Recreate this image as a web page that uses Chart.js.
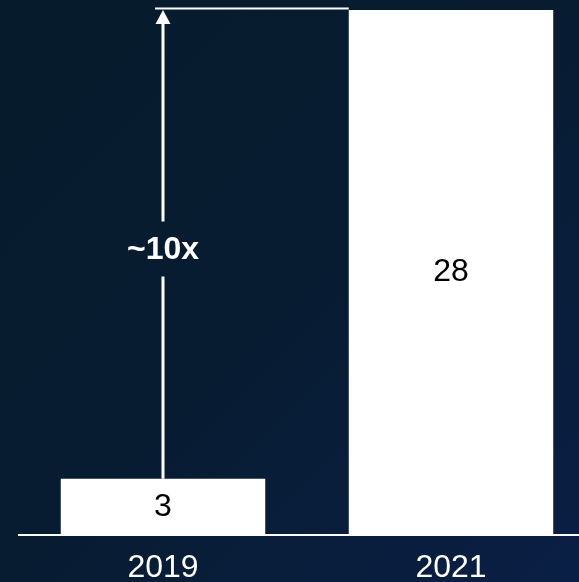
<!DOCTYPE html>
<html>
<head>
<meta charset="utf-8">
<script src="https://cdn.jsdelivr.net/npm/chart.js@4.4.1/dist/chart.umd.min.js"></script>
<style>
  html, body { margin: 0; padding: 0; width: 579px; height: 582px; overflow: hidden;
    background: linear-gradient(135deg, #061b2b 0%, #071c31 50%, #0a1f45 100%); }
  #wrap { position: relative; width: 579px; height: 582px; overflow: hidden; }
  canvas { position: absolute; left: 0; top: 0; }
</style>
</head>
<body>
<div id="wrap"><canvas id="growthChart" width="596" height="582"></canvas></div>
<script>
// ---- data ----
const years = ['2019', '2021'];
const counts = [3, 28];
const growthLabel = '~10x';
const labelAt = 15.2;   // value on the arrow where "~10x" sits

const FONT = "'Liberation Sans', Arial, sans-serif";

// numbers inside the bars + the growth arrow
const annotate = {
    id: 'annotate',
    afterDatasetsDraw(chart) {
        const ctx = chart.ctx;
        const y = chart.scales.y;
        const bars = chart.getDatasetMeta(0).data;
        ctx.save();
        ctx.fillStyle = '#000';
        ctx.font = '32px ' + FONT;
        ctx.textAlign = 'center';
        ctx.textBaseline = 'middle';
        bars.forEach(function (b, i) {
            ctx.fillText(String(counts[i]), b.x, (b.y + b.base) / 2);
        });

        // arrow from the 2019 bar up to the 2021 level
        const ax = bars[0].x;
        const yLow = y.getPixelForValue(counts[0]);
        const yHigh = y.getPixelForValue(counts[1]);
        const yText = y.getPixelForValue(labelAt);
        ctx.strokeStyle = '#fff';
        ctx.fillStyle = '#fff';
        ctx.lineWidth = 3;
        ctx.beginPath();
        ctx.moveTo(ax, yLow); ctx.lineTo(ax, yText + 26.5);
        ctx.moveTo(ax, yText - 28.5); ctx.lineTo(ax, yHigh + 12);
        ctx.stroke();
        ctx.beginPath();
        ctx.moveTo(ax, yHigh);
        ctx.lineTo(ax - 7.5, yHigh + 14);
        ctx.lineTo(ax + 7.5, yHigh + 14);
        ctx.closePath();
        ctx.fill();

        // top guide line over to the 2021 bar
        const b2 = bars[1];
        ctx.lineWidth = 2;
        ctx.beginPath();
        ctx.moveTo(ax - 8, yHigh - 1.5);
        ctx.lineTo(b2.x - b2.width / 2, yHigh - 1.5);
        ctx.stroke();

        ctx.font = 'bold 32px ' + FONT;
        ctx.fillText(growthLabel, ax, yText);
        ctx.restore();
    }
};

new Chart(document.getElementById('growthChart'), {
    type: 'bar',
    data: {
        labels: years,
        datasets: [{
            data: counts,
            backgroundColor: '#ffffff',
            borderWidth: 0,
            categoryPercentage: 1,
            barPercentage: 0.71
        }]
    },
    options: {
        responsive: false,
        animation: false,
        layout: { padding: { left: 19, right: 1, top: 10, bottom: -19 } },
        plugins: { legend: { display: false }, tooltip: { enabled: false } },
        scales: {
            x: {
                grid: { display: false, drawTicks: false },
                border: { color: '#ffffff', width: 2 },
                ticks: { color: '#ffffff', font: { family: FONT, size: 32, lineHeight: 1 }, padding: 17 }
            },
            y: { display: false, min: 0, max: 28 }
        }
    },
    plugins: [annotate]
});
</script>
</body>
</html>
